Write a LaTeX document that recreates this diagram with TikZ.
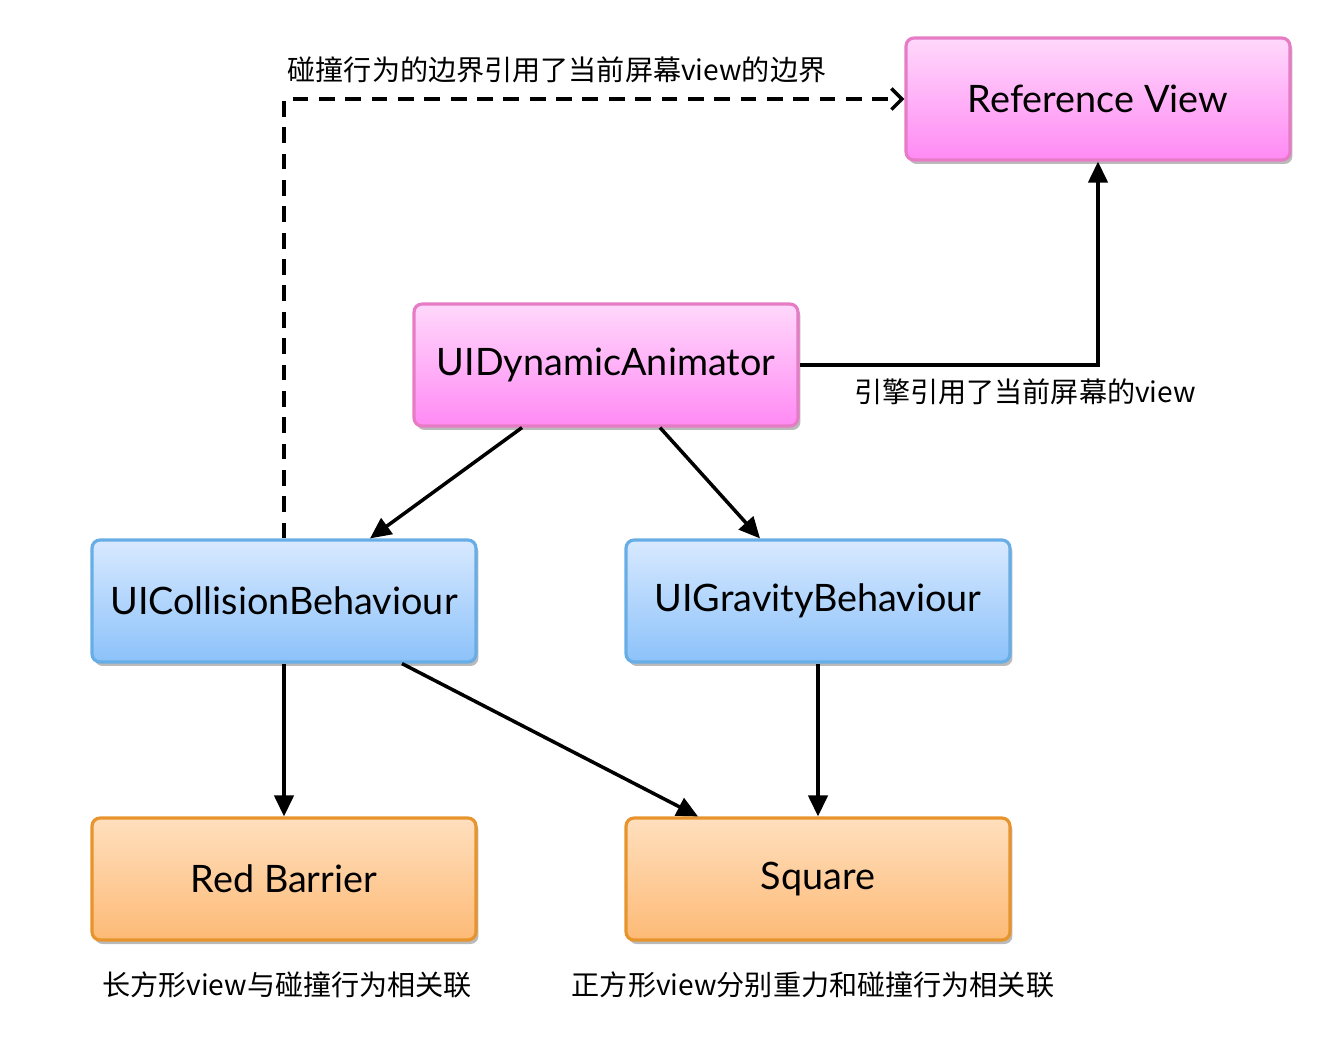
\documentclass[tikz,border=0pt]{standalone}
\usepackage{fontspec}
\setmainfont{Lato}
\newfontfamily\cjk{Noto Sans CJK SC}
\usetikzlibrary{arrows.meta,shadows}

\definecolor{pinkline}{HTML}{E67CC6}
\definecolor{pinktop}{HTML}{FFD8FB}
\definecolor{pinkbot}{HTML}{FF8AF4}
\definecolor{blueline}{HTML}{68AEE6}
\definecolor{bluetop}{HTML}{D8E9FF}
\definecolor{bluebot}{HTML}{8CC2FA}
\definecolor{orgline}{HTML}{E8942C}
\definecolor{orgtop}{HTML}{FFDFBE}
\definecolor{orgbot}{HTML}{FDBA76}

\tikzset{
  box/.style={rounded corners=0.16cm, line width=1.8pt, minimum width=7.68cm,
    minimum height=2.44cm, font=\fontsize{21.5}{25}\selectfont,
    drop shadow={shadow xshift=0.05cm, shadow yshift=-0.08cm, opacity=0.45, fill=black!60}},
  pinkbox/.style={box, draw=pinkline, top color=pinktop, bottom color=pinkbot},
  bluebox/.style={box, draw=blueline, top color=bluetop, bottom color=bluebot},
  orgbox/.style={box, draw=orgline, top color=orgtop, bottom color=orgbot},
  arr/.style={line width=2pt, -{Triangle[length=12pt,width=11pt]}},
  dasharr/.style={line width=2pt, dash pattern=on 9pt off 6pt, -{Straight Barb[length=6pt,width=12pt]}},
  note/.style={font=\cjk\fontsize{16}{19}\selectfont}
}

\begin{document}
\begin{tikzpicture}[x=0.02cm, y=-0.02cm]
	\useasboundingbox (0,0) rectangle (1332,1062);
	% boxes
	\node[pinkbox] (ref) at (1098,99) {Reference View};
	\node[pinkbox] (anim) at (606,365) {UIDynamicAnimator};
	\node[bluebox] (coll) at (284,601) {UICollisionBehaviour};
	\node[bluebox] (grav) at (818,601) {UIGravityBehaviour};
	\node[orgbox] (barrier) at (284,879) {Red Barrier};
	\node[orgbox] (square) at (818,879) {Square};
	% connectors
	\draw[dasharr] (coll.north) |- (ref.west);
	\draw[arr] (anim.east) -| (ref.south);
	\draw[arr] ([xshift=-1.68cm]anim.south) -- ([xshift=1.72cm]coll.north);
	\draw[arr] ([xshift=1.08cm]anim.south) -- ([xshift=-1.16cm]grav.north);
	\draw[arr] (coll.south) -- (barrier.north);
	\draw[arr] ([xshift=2.36cm]coll.south) -- ([xshift=-2.4cm]square.north);
	\draw[arr] (grav.south) -- (square.north);
	% texts
	\node[note] (bound) at (557,70) {碰撞行为的边界引用了当前屏幕view的边界};
	\node[note] (engine) at (1025,392) {引擎引用了当前屏幕的view};
	\node[note] (rect) at (287,985) {长方形view与碰撞行为相关联};
	\node[note] (sq) at (813,985) {正方形view分别重力和碰撞行为相关联};
\end{tikzpicture}
\end{document}
